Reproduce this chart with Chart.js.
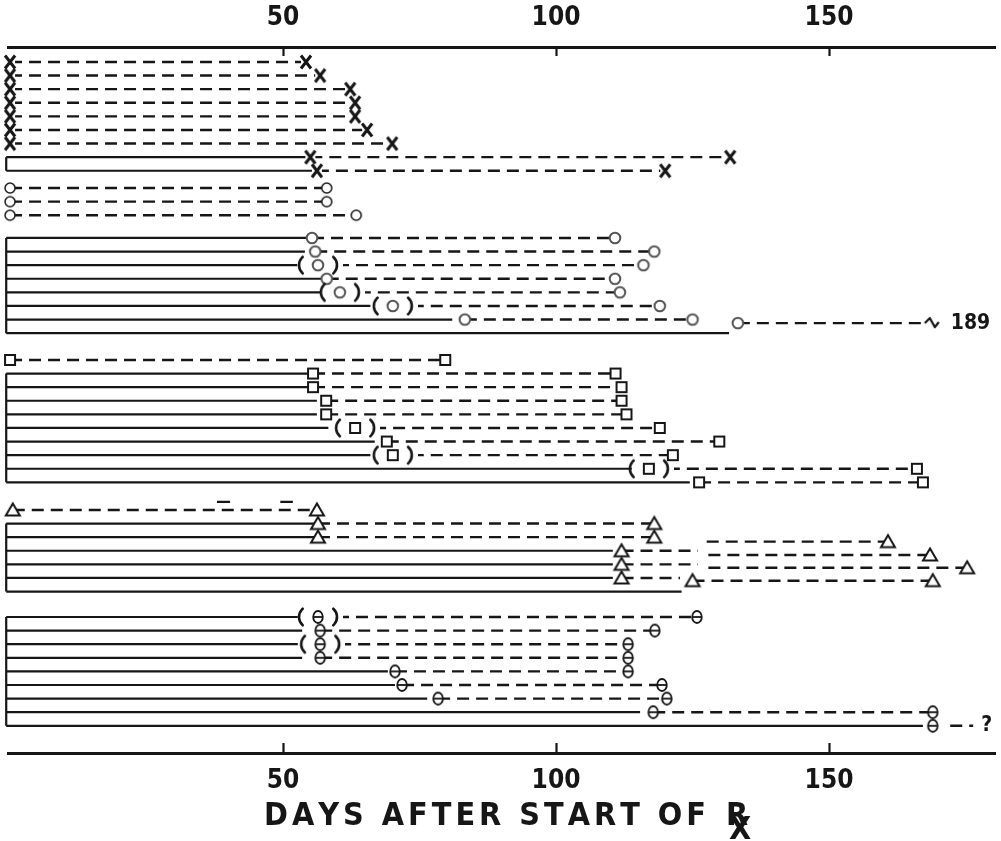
<!DOCTYPE html>
<html><head><meta charset="utf-8">
<script src="https://cdn.jsdelivr.net/npm/chart.js@4.4.1/dist/chart.umd.min.js"></script>
<style>html,body{margin:0;padding:0;background:#fff}canvas{display:block}</style>
</head><body>
<canvas id="c" width="1001" height="841"></canvas>
<script>
// ================= DATA (days after start of treatment) =================
const xTicks = [50, 100, 150];
const titleMain = 'DAYS AFTER START OF';
const titleR = 'R';
const titleSub = 'X';

// Group 1 – "X" markers
const g1Solid = [null, null, null, null, null, null, null, 55, 56.2];
const g1First = [0, 0, 0, 0, 0, 0, 0, 55, 56.2];
const g1Paren = [0, 0, 0, 0, 0, 0, 0, 0, 0];
const g1End   = [54.2, 56.8, 62.3, 63.2, 63.2, 65.4, 70, 131.9, 120];

// Group 2 – small open circles (no solid phase)
const g2Solid = [null, null, null];
const g2First = [0, 0, 0];
const g2Paren = [0, 0, 0];
const g2End   = [58, 58, 63.4];

// Group 3 – open circles
const g3Solid = [55.3, 54, 52.6, 57, 56.8, 66, 81, 131.7];
const g3First = [55.3, 55.9, 56.4, 58, 60.4, 70.1, 83.3, 133.3];
const g3Paren = [0, 0, 1, 0, 1, 1, 0, 0];
const g3End   = [110.8, 118, 116, 110.8, 111.7, 119, 125, 169];
const g3Lift  = [null, null, null, null, null, null, null, [null, 133.3, -0.74]];

// Group 4 – squares
const g4Solid = [null, 55.5, 55.5, 56.2, 56.2, 58.3, 66.8, 66, 113.9, 124.5];
const g4First = [0, 55.5, 55.5, 57.9, 57.9, 63.2, 69, 70.1, 117, 126.2];
const g4Paren = [0, 0, 0, 0, 0, 1, 0, 1, 1, 0];
const g4End   = [79.7, 110.9, 112, 112, 112.9, 119, 129.9, 121.4, 166.1, 167.2];

// Group 5 – triangles
const g5Solid = [null, 56.4, 56.4, 110.4, 110.4, 110.4, 123];
const g5First = [0.5, 56.4, 56.4, 112, 112, 112, 125];
const g5Paren = [0, 0, 0, 0, 0, 0, 0];
const g5End   = [56.2, 118, 118, 160.8, 168.5, 175.3, 169];
// [day where on-line dashes stop, day where raised dashes start, raise in rows]
const g5Lift  = [null, null, null, [126, 127.6, -0.67], [126, 127.9, -0.69], [122.7, 127.9, -0.75], [null, 125, -0.8]];
const g5RaisedDashes = [[37.9, 40.3], [49.5, 51.8]];

// Group 6 – theta circles
const g6Solid = [52.7, 53.5, 52.7, 53.5, 69.2, 70.5, 76.4, 115.4, 167.2];
const g6First = [56.4, 56.8, 56.8, 56.8, 70.5, 71.8, 78.4, 117.8, 169];
const g6Paren = [1, 0, 1, 0, 0, 0, 0, 0, 0];
const g6End   = [125.8, 118.1, 113.2, 113.2, 113.2, 119.4, 120.3, 169, 176.4];
const g6DashFrom = [null, null, null, null, null, null, null, null, 172.2];

// special row ends: group index, row index, end mark, text
const endNotes = [
  {group: 2, row: 7, mark: 'break', text: '189'},
  {group: 5, row: 8, mark: 'none', text: '?'}
];

// ================= LAYOUT / STYLE =================
const INK = '#161616';
const FONT = "'Liberation Sans Narrow','DejaVu Sans Condensed','Liberation Sans',sans-serif";
const X_MIN = -0.3, X_MAX = 180.4;
const Y_MAX = 51.91;                       // row slots between the two axes
const groupTop = [1.10, 10.37, 14.04, 23.01, 34.04, 41.91];
const BRACKET_X = -0.7;
const RAISE_G5 = -0.6;

const groups = [
  {kind: 'x',        solid: g1Solid, first: g1First, paren: g1Paren, end: g1End},
  {kind: 'circle',   solid: g2Solid, first: g2First, paren: g2Paren, end: g2End},
  {kind: 'ring',     solid: g3Solid, first: g3First, paren: g3Paren, end: g3End, lift: g3Lift},
  {kind: 'square',   solid: g4Solid, first: g4First, paren: g4Paren, end: g4End},
  {kind: 'triangle', solid: g5Solid, first: g5First, paren: g5Paren, end: g5End, lift: g5Lift},
  {kind: 'theta',    solid: g6Solid, first: g6First, paren: g6Paren, end: g6End, dashFrom: g6DashFrom}
];

const solidPts = [], dashPts = [], markPts = [], notePts = [];
function seg(arr, x0, x1, y) { arr.push({x: x0, y: y}, {x: x1, y: y}, {x: x1, y: null}); }

groups.forEach((G, gi) => {
  const top = groupTop[gi];
  const solidRows = [];
  G.first.forEach((f, i) => {
    const y = top + i;
    if (G.solid[i] != null) { seg(solidPts, BRACKET_X, G.solid[i], y); solidRows.push(y); }
    const L = G.lift ? G.lift[i] : null;
    const note = endNotes.find(n => n.group === gi && n.row === i);
    const endKind = note ? note.mark : G.kind;
    const e = G.end[i];
    const d0 = (G.dashFrom && G.dashFrom[i] != null) ? G.dashFrom[i] : f;
    let yEnd = y, yFirst = y;
    if (L) {
      const cut = L[0], from = L[1], dy = L[2];
      yEnd = y + dy;
      if (from <= f) yFirst = yEnd;
      if (cut != null) seg(dashPts, d0, cut, y);
      seg(dashPts, Math.max(from, d0), e, yEnd);
    } else {
      seg(dashPts, d0, e, y);
    }
    markPts.push({x: f, y: yFirst, k: G.kind, p: G.paren[i]});
    if (endKind !== 'none') markPts.push({x: e, y: yEnd, k: endKind, p: 0});
    if (note) notePts.push({x: e, y: yEnd, text: note.text, mark: note.mark});
  });
  if (solidRows.length > 1) {
    solidPts.push({x: BRACKET_X, y: solidRows[0]}, {x: BRACKET_X, y: solidRows[solidRows.length - 1]}, {x: BRACKET_X, y: null});
  }
});
g5RaisedDashes.forEach(d => seg(solidPts, d[0], d[1], groupTop[4] + RAISE_G5));

// ================= MARKER GLYPHS =================
const markerCache = {};
function markerImg(k, p) {
  const key = k + '_' + p;
  if (markerCache[key]) return markerCache[key];
  const W = p ? 50 : 24, H = 24, cx = W / 2, cy = H / 2;
  const c = document.createElement('canvas'); c.width = W; c.height = H;
  const g = c.getContext('2d');
  g.strokeStyle = INK; g.fillStyle = '#fff'; g.lineCap = 'round';
  if (p) {
    g.fillRect(cx - 17, cy - 3.5, 17 + W / 2, 7);
    g.lineWidth = 2.6;
    g.beginPath(); g.arc(cx - 8, cy, 11, Math.PI - 0.85, Math.PI + 0.85); g.stroke();
    g.beginPath(); g.arc(cx + 8, cy, 11, -0.85, 0.85); g.stroke();
  }
  g.lineCap = 'butt';
  switch (k) {
    case 'x':
      g.fillRect(cx - 5, cy - 3, 10, 6);
      g.lineWidth = 3;
      g.beginPath(); g.moveTo(cx - 5, cy - 6.5); g.lineTo(cx + 5, cy + 6.5);
      g.moveTo(cx + 5, cy - 6.5); g.lineTo(cx - 5, cy + 6.5); g.stroke();
      break;
    case 'circle':
      g.lineWidth = 1.5;
      g.beginPath(); g.arc(cx, cy, 5, 0, 2 * Math.PI); g.fill(); g.stroke();
      break;
    case 'ring':
      g.lineWidth = 2; g.strokeStyle = '#555';
      g.beginPath(); g.arc(cx, cy, 5.3, 0, 2 * Math.PI); g.fill(); g.stroke();
      break;
    case 'square':
      g.lineWidth = 2;
      g.beginPath(); g.rect(cx - 5, cy - 5, 10, 10); g.fill(); g.stroke();
      break;
    case 'triangle':
      g.lineWidth = 2; g.lineJoin = 'miter';
      g.beginPath(); g.moveTo(cx, cy - 6.5); g.lineTo(cx + 7, cy + 5.5); g.lineTo(cx - 7, cy + 5.5); g.closePath();
      g.fill(); g.stroke();
      break;
    case 'theta':
      g.lineWidth = 1.8;
      g.beginPath(); g.ellipse(cx, cy, 4.8, 6, 0, 0, 2 * Math.PI); g.fill(); g.stroke();
      g.beginPath(); g.moveTo(cx - 4.8, cy); g.lineTo(cx + 4.8, cy); g.stroke();
      break;
    case 'break':
      g.fillRect(cx - 8, cy - 3, 20, 6);
      g.lineWidth = 2.2; g.lineJoin = 'round';
      g.beginPath(); g.moveTo(cx - 8, cy); g.lineTo(cx - 3, cy - 5); g.lineTo(cx + 2, cy + 4); g.lineTo(cx + 6, cy - 1); g.stroke();
      break;
  }
  markerCache[key] = c;
  return c;
}

// ================= DECORATION PLUGIN =================
const decor = {
  id: 'decor',
  afterDraw(chart) {
    const ctx = chart.ctx, xb = chart.scales.xBottom, xt = chart.scales.xTop, ys = chart.scales.y;
    ctx.save();
    ctx.strokeStyle = INK; ctx.lineWidth = 2.2;
    xTicks.forEach(v => {
      const px = Math.round(xb.getPixelForValue(v)) + 0.5;
      ctx.beginPath(); ctx.moveTo(px, xt.bottom); ctx.lineTo(px, xt.bottom + 9); ctx.stroke();
      ctx.beginPath(); ctx.moveTo(px, xb.top); ctx.lineTo(px, xb.top - 10); ctx.stroke();
    });
    // end-of-row notes
    ctx.fillStyle = INK; ctx.textBaseline = 'middle'; ctx.textAlign = 'left';
    ctx.font = 'bold 21px ' + FONT;
    notePts.forEach(n => {
      const dx = n.mark === 'break' ? 18 : 8;
      ctx.fillText(n.text, xb.getPixelForValue(n.x) + dx, ys.getPixelForValue(n.y));
    });
    // axis title, letter-spaced, with subscript X under R
    ctx.textBaseline = 'alphabetic';
    ctx.font = 'bold 32px ' + FONT;
    const chars = [...titleMain];
    const w = chars.map(ch => ctx.measureText(ch).width);
    const natural = w.reduce((a, b) => a + b, 0);
    const left = 264, span = 442, base = 825;
    const sp = (span - natural) / (chars.length - 1);
    let x = left;
    chars.forEach((ch, i) => { ctx.fillText(ch, x, base); x += w[i] + sp; });
    ctx.fillText(titleR, left + span + 20, base);
    ctx.fillText(titleSub, left + span + 23, base + 14);
    ctx.restore();
  }
};

// ================= CHART =================
const tickFont = {family: FONT, size: 26, weight: 'bold'};
function xAxis(pos, h) {
  return {
    type: 'linear', position: pos, min: X_MIN, max: X_MAX,
    afterBuildTicks: s => { s.ticks = xTicks.map(v => ({value: v})); },
    afterFit: s => { s.height = h; },
    grid: {display: false, drawTicks: false},
    border: {display: true, width: 3, color: INK},
    ticks: {font: tickFont, color: INK, padding: 13, autoSkip: false, maxRotation: 0}
  };
}

new Chart(document.getElementById('c'), {
  type: 'line',
  data: {
    datasets: [
      {label: 'on treatment', data: solidPts, xAxisID: 'xBottom', yAxisID: 'y', borderColor: INK, borderWidth: 2.2,
       pointRadius: 0, spanGaps: false, clip: false, tension: 0, order: 3},
      {label: 'after treatment', data: dashPts, xAxisID: 'xBottom', yAxisID: 'y', borderColor: INK, borderWidth: 2.4,
       borderDash: [12, 7], pointRadius: 0, spanGaps: false, clip: false, tension: 0, order: 2},
      {label: 'events', data: markPts, xAxisID: 'xBottom', yAxisID: 'y', showLine: false, pointRadius: 5,
       pointStyle: c => (c.raw ? markerImg(c.raw.k, c.raw.p) : 'circle'), clip: false, order: 1}
    ]
  },
  options: {
    responsive: false, animation: false, events: [],
    layout: {padding: {left: 8.4, right: 6, top: 0, bottom: 0}},
    plugins: {legend: {display: false}, tooltip: {enabled: false}},
    scales: {
      xTop: xAxis('top', 47),
      xBottom: xAxis('bottom', 88),
      y: {type: 'linear', display: false, reverse: true, min: 0, max: Y_MAX}
    }
  },
  plugins: [decor]
});
</script>
</body></html>
